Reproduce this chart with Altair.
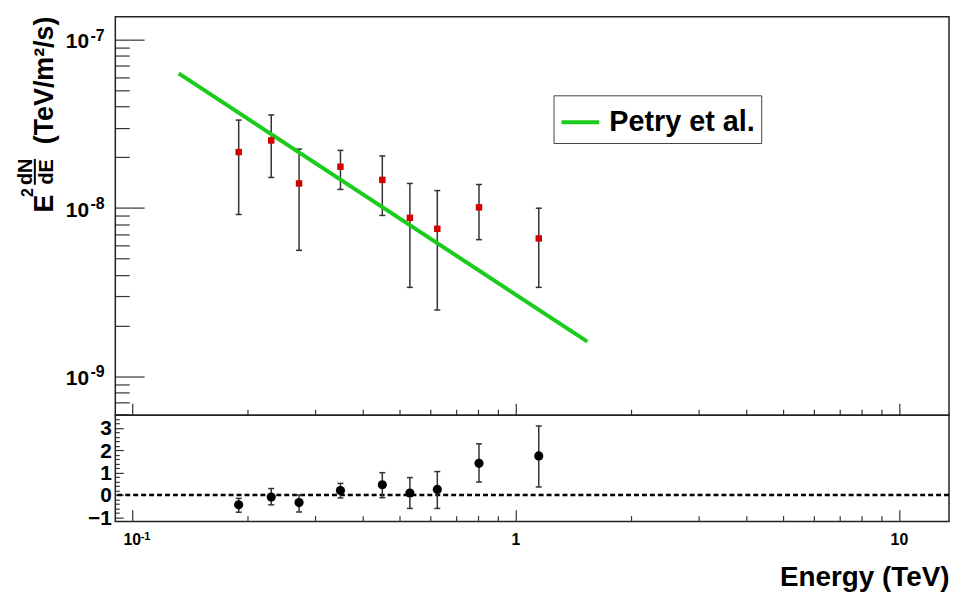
import altair as alt
import pandas as pd

# ---------------- data ----------------
energy = [0.190, 0.231, 0.273, 0.350, 0.450, 0.531, 0.626, 0.804, 1.151]
flux = [2.15e-8, 2.52e-8, 1.40e-8, 1.76e-8, 1.47e-8, 8.75e-9, 7.53e-9, 1.01e-8, 6.60e-9]
flux_hi = [3.33e-8, 3.57e-8, 2.24e-8, 2.20e-8, 2.04e-8, 1.40e-8, 1.27e-8, 1.38e-8, 9.98e-9]
flux_lo = [9.16e-9, 1.52e-8, 5.61e-9, 1.29e-8, 9.04e-9, 3.38e-9, 2.48e-9, 6.49e-9, 3.38e-9]

resid = [-0.44, -0.09, -0.34, 0.20, 0.46, 0.09, 0.25, 1.42, 1.75]
resid_hi = [-0.15, 0.29, 0.00, 0.52, 1.00, 0.78, 1.05, 2.29, 3.09]
resid_lo = [-0.77, -0.44, -0.76, -0.13, -0.12, -0.60, -0.60, 0.58, 0.36]

petry_energy = [0.1325, 1.541]
petry_flux = [6.30e-8, 1.61e-9]
legend_label = ["Petry et al."]

x_major = [0.1, 1, 10]
x_minor = [0.2, 0.3, 0.4, 0.5, 0.6, 0.7, 0.8, 0.9, 2, 3, 4, 5, 6, 7, 8, 9]
x_sup_at = [0.1]
x_sup_text = ["-1"]
yf_major = [1e-9, 1e-8, 1e-7]
yf_sup_text = ["-9", "-8", "-7"]
yf_minor = [6e-10, 7e-10, 8e-10, 9e-10,
            2e-9, 3e-9, 4e-9, 5e-9, 6e-9, 7e-9, 8e-9, 9e-9,
            2e-8, 3e-8, 4e-8, 5e-8, 6e-8, 7e-8, 8e-8, 9e-8]
yr_major = [-1, 0, 1, 2, 3]
yr_minor = [-0.8, -0.6, -0.4, -0.2, 0.2, 0.4, 0.6, 0.8, 1.2, 1.4, 1.6, 1.8,
            2.2, 2.4, 2.6, 2.8, 3.2, 3.4]

# ---------------- styling ----------------
FONT = "Liberation Sans"
W, H1, H2 = 839, 401, 107
X_DOMAIN = [0.0906, 13.51]
YF_DOMAIN = [5.88e-10, 1.367e-7]
YR_DOMAIN = [-1.19, 3.57]
TICK = "#333333"
RED = "#d40000"
GREEN = "#1ccc1c"

xs = alt.Scale(type="log", domain=X_DOMAIN, nice=False)
yfs = alt.Scale(type="log", domain=YF_DOMAIN, nice=False)
yrs = alt.Scale(domain=YR_DOMAIN, nice=False, zero=False)


def tick_axis(orient, offset, values, size):
    return alt.Axis(orient=orient, offset=offset, values=values, tickSize=size,
                    labels=False, domain=False, grid=False, title=None,
                    tickColor=TICK, tickWidth=1.2)


flux_df = pd.DataFrame({"E": energy, "F": flux, "Fhi": flux_hi, "Flo": flux_lo})
res_df = pd.DataFrame({"E": energy, "R": resid, "Rhi": resid_hi, "Rlo": resid_lo})
line_df = pd.DataFrame({"E": petry_energy, "F": petry_flux,
                        "s": legend_label * len(petry_energy)})
ysup_df = pd.DataFrame({"v": yf_major, "t": yf_sup_text})
xsup_df = pd.DataFrame({"v": x_sup_at, "t": x_sup_text})
one = pd.DataFrame({"a": [0]})

# ---------------- top panel ----------------
top_bars = alt.Chart(flux_df).mark_rule(color=TICK, strokeWidth=1.5).encode(
    x=alt.X("E:Q", scale=xs, axis=tick_axis("top", -H1, x_major, 12)),
    y=alt.Y("Flo:Q", scale=yfs, axis=alt.Axis(
        orient="left", values=yf_major, ticks=False, domain=False, grid=False,
        title=None, labelFont=FONT, labelFontSize=21, labelFontWeight="bold",
        labelColor="black", labelPadding=27, labelBaseline="middle", labelOffset=2,
        labelExpr="'10'")),
    y2="Fhi:Q",
)
top_sup = alt.Chart(ysup_df).mark_text(
    font=FONT, fontSize=16, fontWeight="bold", align="left", baseline="alphabetic",
    color="black", dy=1).encode(
    x=alt.value(-25),
    y=alt.Y("v:Q", scale=yfs, axis=None),
    text="t:N",
)
top_cap_hi = alt.Chart(flux_df).mark_point(shape="stroke", size=36, strokeWidth=1.5,
                                            color=TICK, filled=False, opacity=1).encode(
    x=alt.X("E:Q", scale=xs, axis=tick_axis("top", -H1, x_minor, 6)),
    y=alt.Y("Fhi:Q", scale=yfs, axis=tick_axis("right", -W, yf_major, 29)),
)
top_cap_lo = alt.Chart(flux_df).mark_point(shape="stroke", size=36, strokeWidth=1.5,
                                            color=TICK, filled=False, opacity=1).encode(
    x=alt.X("E:Q", scale=xs, axis=None),
    y=alt.Y("Flo:Q", scale=yfs, axis=tick_axis("right", -W, yf_minor, 14)),
)
top_pts = alt.Chart(flux_df).mark_square(size=42, color=RED, opacity=1).encode(
    x=alt.X("E:Q", scale=xs, axis=None),
    y=alt.Y("F:Q", scale=yfs, axis=None),
)
top_line = alt.Chart(line_df).mark_line(strokeWidth=4).encode(
    x=alt.X("E:Q", scale=xs, axis=None),
    y=alt.Y("F:Q", scale=yfs, axis=None),
    color=alt.Color("s:N", scale=alt.Scale(domain=legend_label, range=[GREEN]),
                    legend=alt.Legend(
                        orient="none", legendX=441, legendY=79, title=None,
                        strokeColor="#444444", fillColor="white", padding=6,
                        symbolType="stroke", symbolSize=1444, symbolStrokeWidth=4,
                        labelFont=FONT, labelFontSize=29, labelFontWeight="bold",
                        labelColor="black", labelOffset=8, labelLimit=300)),
)


def title_piece(text, x, y, size):
    return alt.Chart(one).mark_text(
        text=text, angle=270, font=FONT, fontSize=size, fontWeight="bold",
        align="center", baseline="alphabetic", color="black",
    ).encode(x=alt.value(x), y=alt.value(y))


t_units = title_piece("(TeV/m²/s)", -63, 64, 27)
t_E = title_piece("E", -63, 188, 27)
t_sq = title_piece("2", -83, 177, 16)
t_dN = title_piece("dN", -84, 156, 20)
t_dE = title_piece("dE", -63, 156, 20)
t_bar = alt.Chart(one).mark_rule(color="black", strokeWidth=2).encode(
    x=alt.value(-81), y=alt.value(143), y2=alt.value(169))

top = alt.layer(top_bars, top_cap_hi, top_cap_lo, top_line, top_pts, top_sup,
                t_units, t_E, t_sq, t_dN, t_dE, t_bar).resolve_axis(
    x="independent", y="independent").properties(width=W, height=H1)

# ---------------- bottom panel ----------------
zero_line = alt.Chart(pd.DataFrame({"z": [0]})).mark_rule(
    color="black", strokeWidth=2.5, strokeDash=[5, 3]).encode(
    y=alt.Y("z:Q", scale=yrs, axis=None))

bot_bars = alt.Chart(res_df).mark_rule(color=TICK, strokeWidth=1.5).encode(
    x=alt.X("E:Q", scale=xs, axis=alt.Axis(
        orient="bottom", values=x_major, ticks=False, domain=False, grid=False,
        labelFont=FONT, labelFontSize=16, labelFontWeight="bold", labelColor="black",
        labelPadding=10,
        labelExpr="datum.value < 5 ? (datum.value < 0.5 ? '10' : '1') : '10'",
        title="Energy (TeV)", titleFont=FONT, titleFontSize=28, titleFontWeight="bold",
        titleColor="black", titleAnchor="end", titlePadding=16)),
    y=alt.Y("Rlo:Q", scale=yrs, axis=alt.Axis(
        orient="left", values=yr_major, ticks=False, domain=False, grid=False,
        title=None, labelFont=FONT, labelFontSize=21, labelFontWeight="bold",
        labelColor="black", labelPadding=4, labelBaseline="middle", labelOffset=1)),
    y2="Rhi:Q",
)
bot_sup = alt.Chart(xsup_df).mark_text(
    font=FONT, fontSize=11, fontWeight="bold", align="left", baseline="alphabetic",
    color="black", dx=9).encode(
    x=alt.X("v:Q", scale=xs, axis=None),
    y=alt.value(H2 + 19),
    text="t:N",
)
bot_cap_hi = alt.Chart(res_df).mark_point(shape="stroke", size=36, strokeWidth=1.5,
                                           color=TICK, filled=False, opacity=1).encode(
    x=alt.X("E:Q", scale=xs, axis=tick_axis("top", -H2, x_major, 12)),
    y=alt.Y("Rhi:Q", scale=yrs, axis=tick_axis("right", -W, yr_major, 8)),
)
bot_cap_lo = alt.Chart(res_df).mark_point(shape="stroke", size=36, strokeWidth=1.5,
                                           color=TICK, filled=False, opacity=1).encode(
    x=alt.X("E:Q", scale=xs, axis=tick_axis("top", -H2, x_minor, 6)),
    y=alt.Y("Rlo:Q", scale=yrs, axis=tick_axis("right", -W, yr_minor, 4)),
)
bot_pts = alt.Chart(res_df).mark_circle(size=85, color="black", opacity=1).encode(
    x=alt.X("E:Q", scale=xs, axis=None),
    y=alt.Y("R:Q", scale=yrs, axis=None),
)

bottom = alt.layer(zero_line, bot_bars, bot_cap_hi, bot_cap_lo, bot_pts, bot_sup).resolve_axis(
    x="independent", y="independent").properties(width=W, height=H2)

chart = alt.vconcat(top, bottom, spacing=0, bounds="flush").configure_view(
    stroke="#222222", strokeWidth=1.5).properties(
    padding={"left": 7, "top": 5, "right": 0, "bottom": 0}, background="white")

chart.save("out.html", embed_options={"renderer": "svg", "actions": False})
